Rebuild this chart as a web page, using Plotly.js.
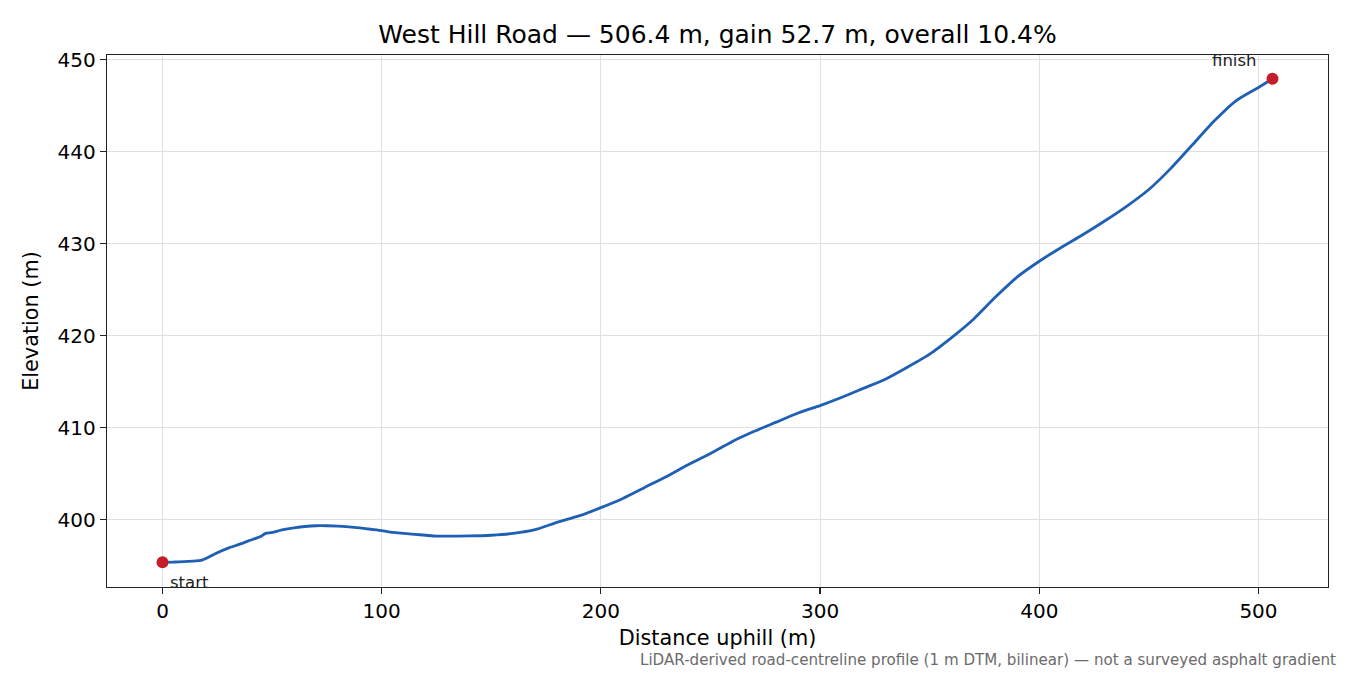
<!DOCTYPE html>
<html>
<head>
<meta charset="utf-8">
<script src="https://cdn.plot.ly/plotly-3.0.1.min.js"></script>
<style>
  body { margin: 0; background: #fff; }
  #plot { width: 1350px; height: 675px; }
</style>
</head>
<body>
<div id="plot"></div>
<script>
// distance along the road (m) and elevation (m)
var distance = [0, 5, 10, 15, 18, 20, 25, 30, 35, 40, 45, 47, 50, 55, 60, 65, 70, 75, 80, 85,
	90, 95, 100, 105, 110, 115, 120, 125, 130, 140, 150, 160, 170, 180, 190, 200,
	210, 220, 230, 240, 250, 260, 270, 280, 290, 300, 310, 320, 330, 340, 350, 360,
	370, 380, 390, 400, 410, 420, 430, 440, 450, 460, 470, 480, 490, 500, 506.4];
var elevation = [395.35, 395.38, 395.42, 395.5, 395.6, 395.8, 396.4, 396.9, 397.3, 397.75, 398.2, 398.5, 398.6, 398.9, 399.1, 399.25, 399.33, 399.33, 399.3, 399.22,
	399.1, 398.95, 398.8, 398.6, 398.5, 398.4, 398.3, 398.2, 398.2, 398.22, 398.3, 398.5, 398.9, 399.7, 400.4, 401.3,
	402.3, 403.5, 404.7, 406.0, 407.2, 408.5, 409.6, 410.6, 411.6, 412.4, 413.3, 414.3, 415.3, 416.6, 418.0, 419.8,
	421.8, 424.2, 426.4, 428.1, 429.6, 431.0, 432.5, 434.1, 435.9, 438.2, 440.8, 443.4, 445.6, 447.0, 447.95];
var endLabels = ["start", "finish"];

var titleText = "West Hill Road — 506.4 m, gain 52.7 m, overall 10.4%";
var noteText = "LiDAR-derived road-centreline profile (1 m DTM, bilinear) — not a surveyed asphalt gradient";

var last = distance.length - 1;
var font = "DejaVu Sans, Verdana, sans-serif";

var profile = {
	x: distance, y: elevation, type: 'scatter', mode: 'lines',
	line: {color: '#1f5fb4', width: 2.8, shape: 'spline', smoothing: 0.6}, hoverinfo: 'skip'
};
var ends = {
	x: [distance[0], distance[last]], y: [elevation[0], elevation[last]],
	type: 'scatter', mode: 'markers',
	marker: {color: '#c41e2a', size: 12}, hoverinfo: 'skip'
};

var layout = {
	width: 1350, height: 675,
	paper_bgcolor: '#fff', plot_bgcolor: '#fff',
	showlegend: false,
	font: {family: font, color: '#000', size: 20},
	margin: {l: 107, r: 22, t: 55, b: 88, pad: 0},
	title: {text: titleText, font: {size: 25, color: '#000'},
		xref: 'paper', x: 0.5, xanchor: 'center', yref: 'container', y: 0.95, yanchor: 'middle'},
	xaxis: {
		range: [-25.32, 531.72], tickvals: [0, 100, 200, 300, 400, 500],
		showgrid: true, gridcolor: '#e0e0e0', gridwidth: 1, zeroline: false,
		showline: true, linecolor: '#222', linewidth: 1.2, mirror: true,
		ticks: 'outside', ticklen: 6, tickwidth: 1.2, tickcolor: '#222',
		tickfont: {size: 20},
		title: {text: 'Distance uphill (m)', font: {size: 20.8}, standoff: 8}
	},
	yaxis: {
		range: [392.67, 450.53], tickvals: [400, 410, 420, 430, 440, 450],
		showgrid: true, gridcolor: '#e0e0e0', gridwidth: 1, zeroline: false,
		showline: true, linecolor: '#222', linewidth: 1.2, mirror: true,
		ticks: 'outside', ticklen: 6, tickwidth: 1.2, tickcolor: '#222',
		tickfont: {size: 20},
		title: {text: 'Elevation (m)', font: {size: 20.8}, standoff: 13}
	},
	annotations: [
		{x: distance[0], y: elevation[0], text: endLabels[0], showarrow: false,
			xanchor: 'left', yanchor: 'top', xshift: 5, yshift: -9, font: {size: 16.5, color: '#222'}},
		{x: distance[last], y: elevation[last], text: endLabels[1], showarrow: false,
			xanchor: 'right', yanchor: 'bottom', xshift: -14, yshift: 7, font: {size: 16.5, color: '#222'}},
		{xref: 'paper', yref: 'paper', x: 1.008, y: -0.137, text: noteText, showarrow: false,
			xanchor: 'right', yanchor: 'middle', font: {size: 15.1, color: '#6b6b6b'}}
	]
};

Plotly.newPlot('plot', [profile, ends], layout, {staticPlot: true});
</script>
</body>
</html>
